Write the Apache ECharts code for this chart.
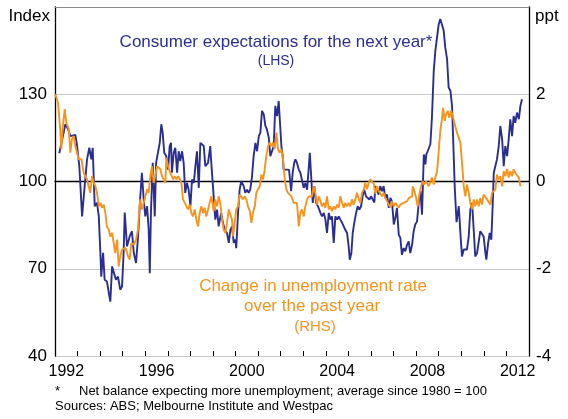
<!DOCTYPE html>
<html>
<head>
<meta charset="utf-8">
<script src="https://cdn.jsdelivr.net/npm/echarts@6/dist/echarts.min.js"></script>
<style>
html,body{margin:0;padding:0;background:#fff;}
#chart{width:568px;height:419px;}
</style>
</head>
<body>
<div id="chart"></div>
<script>
// ---- Data ----
var yearCategories = ['1992','1993','1994','1995','1996','1997','1998','1999','2000','2001','2002','2003','2004','2005','2006','2007','2008','2009','2010','2011','2012'];
var leftTicks = [40, 70, 100, 130];
var rightTicks = [-4, -2, 0, 2];

// Consumer expectations for the next year (index, LHS)
var consumerYears = [1992.19,1992.46,1992.58,1992.68,1992.90,1992.97,1993.08,1993.20,1993.30,1993.42,1993.52,1993.61,1993.67,1993.76,1993.86,1993.94,
1994.01,1994.05,1994.13,1994.20,1994.30,1994.45,1994.53,1994.60,1994.70,1994.79,1994.89,1994.97,
1995.04,1995.09,1995.19,1995.31,1995.41,1995.49,1995.59,1995.68,1995.78,1995.85,1995.93,
1996.00,1996.08,1996.15,1996.20,1996.25,1996.33,1996.42,1996.48,1996.56,1996.64,1996.71,1996.77,1996.84,1996.93,
1997.01,1997.08,1997.14,1997.18,1997.26,1997.33,1997.41,1997.48,1997.55,1997.63,1997.70,1997.77,1997.85,1997.92,
1998.00,1998.07,1998.15,1998.22,1998.29,1998.37,1998.44,1998.51,1998.59,1998.66,1998.78,1998.88,1998.91,
1999.03,1999.10,1999.18,1999.25,1999.36,1999.44,1999.52,1999.62,1999.70,1999.77,1999.84,1999.92,1999.99,
2000.03,2000.11,2000.18,2000.25,2000.36,2000.43,2000.51,2000.58,2000.65,2000.73,2000.80,2000.88,2000.95,
2001.03,2001.10,2001.17,2001.25,2001.32,2001.39,2001.47,2001.54,2001.62,2001.69,2001.76,2001.84,2001.91,2001.96,
2002.03,2002.09,2002.13,2002.20,2002.28,2002.37,2002.46,2002.53,2002.60,2002.65,2002.72,2002.80,2002.87,2002.94,
2003.02,2003.09,2003.17,2003.29,2003.34,2003.42,2003.49,2003.57,2003.65,2003.76,2003.83,2003.91,2003.98,
2004.05,2004.13,2004.20,2004.27,2004.35,2004.42,2004.50,2004.57,2004.64,2004.72,2004.79,2004.86,2004.94,
2005.01,2005.06,2005.13,2005.19,2005.26,2005.34,2005.41,2005.48,2005.56,2005.63,2005.70,2005.78,2005.86,2005.93,
2006.00,2006.08,2006.15,2006.19,2006.27,2006.34,2006.41,2006.49,2006.56,2006.63,2006.71,2006.79,2006.86,2006.93,
2007.01,2007.08,2007.15,2007.23,2007.30,2007.37,2007.45,2007.52,2007.60,2007.67,2007.74,2007.82,2007.89,2007.96,
2008.04,2008.12,2008.19,2008.26,2008.34,2008.41,2008.45,2008.51,2008.58,2008.63,2008.70,2008.78,2008.85,2008.93,
2009.00,2009.07,2009.15,2009.22,2009.29,2009.37,2009.44,2009.52,2009.59,2009.66,2009.71,2009.79,2009.89,2009.96,
2010.03,2010.11,2010.18,2010.25,2010.33,2010.40,2010.48,2010.55,2010.62,2010.70,2010.77,2010.84,2010.92,2010.99,
2011.07,2011.11,2011.19,2011.26,2011.33,2011.39,2011.44,2011.51,2011.58,2011.66,2011.73,2011.81,2011.88,2011.95,
2012.03,2012.10,2012.17,2012.25,2012.32,2012.39,2012.47,2012.55,2012.62,2012.69];
var consumerIndex = [109.7,119.7,118,115.6,116,112.8,105,88,97.2,107.6,111.6,107.6,111.6,91.5,92.7,88,
75.5,67.3,75.5,66.2,65.6,58.7,70.8,70.3,66.2,67.3,62.8,63.9,
75.5,89.3,77.7,81.1,82.9,75.5,72,81.1,94.9,103,93.8,
88,91.5,83.4,68.5,89.2,106.4,88,106.4,109.9,113.3,119.7,116.8,109.9,108.7,
104.1,112.2,113.3,103,109.9,111.6,103,110.4,107,110.4,106.4,96.1,99.5,97.2,
91.5,100.7,99.5,105.3,110.4,97.8,113.3,113.3,112.2,105.3,106.4,112.2,108,
94.9,86.9,90.3,84.6,89.2,85.8,83.4,82.3,78.9,83.4,84.6,78.9,80,
77.1,89.2,97.2,100.1,98.4,96.1,97.2,96.1,97.2,101.8,108.7,113.3,110.4,
115.6,116.8,124.3,123.1,119.1,117.9,115.1,108.7,109.3,112.2,126,122.5,127.7,127.5,
112.2,108.7,104.1,104.7,104.1,104,96.7,103,106.5,107.6,106.4,104.1,103,102.4,
97.8,99.5,97.2,109.9,103,92.6,98.4,92.6,91.5,89.2,88,89.2,86.9,
82.3,89.2,86.9,88,78.9,88,86.9,88,86.9,85.8,84.6,83.4,82.3,
77.7,73.1,75.4,82.3,85.8,89.2,91.5,90.3,91.5,94.9,97.2,94.9,94.9,93.8,
94.9,95,92.8,98.4,97.2,95.5,98.4,96.7,98.4,94.4,95.5,90.9,94.4,93.2,
85.2,87.5,90.9,81.7,80.6,74.8,77.1,76,78.3,79.4,75.4,78.3,82.9,85.2,
86.3,93.2,96.7,88.6,109.3,105.9,109.3,110.4,111,112.8,122,138,144.9,144.3,
154.1,155.9,155.9,151.9,146.1,142.1,132.3,131.1,126,110,98,86,91.5,82.3,
74.2,76.6,76,76.6,81.1,90.3,92.6,83.4,74.2,75.4,76,82.9,82.3,81.1,
75.4,73.1,78.9,82.3,80,91.5,103,105.3,107.6,112.2,119.1,114.5,105.3,112.2,
108.7,114.5,121.4,115.6,122.5,120.2,123.7,121.4,126,128.3];

// Change in unemployment rate over the past year (ppt, RHS)
var unempYears = [1992.01,1992.13,1992.23,1992.28,1992.35,1992.43,1992.50,1992.61,1992.68,1992.75,1992.83,1992.90,1992.97,
1993.05,1993.17,1993.27,1993.34,1993.42,1993.49,1993.56,1993.64,1993.72,1993.79,1993.86,1993.94,
1994.01,1994.08,1994.16,1994.23,1994.30,1994.38,1994.45,1994.53,1994.60,1994.67,1994.75,1994.82,1994.89,1994.97,
1995.12,1995.24,1995.31,1995.38,1995.49,1995.59,1995.68,1995.74,1995.78,1995.85,1995.93,
1996.00,1996.08,1996.15,1996.22,1996.30,1996.37,1996.44,1996.52,1996.60,1996.67,1996.74,1996.82,1996.89,1996.93,
1997.01,1997.08,1997.15,1997.23,1997.30,1997.38,1997.45,1997.53,1997.60,1997.67,1997.75,1997.82,1997.89,1997.97,
1998.04,1998.11,1998.19,1998.26,1998.34,1998.41,1998.48,1998.56,1998.63,1998.70,1998.78,1998.85,1998.93,
1999.03,1999.10,1999.18,1999.25,1999.32,1999.40,1999.47,1999.55,1999.62,1999.70,1999.77,1999.84,1999.89,1999.96,
2000.03,2000.11,2000.18,2000.25,2000.33,2000.41,2000.48,2000.55,2000.63,2000.70,2000.77,2000.85,2000.92,2000.99,
2001.07,2001.14,2001.22,2001.29,2001.36,2001.44,2001.51,2001.58,2001.66,2001.73,2001.81,2001.88,2001.96,
2002.03,2002.10,2002.18,2002.25,2002.32,2002.40,2002.47,2002.58,2002.65,2002.72,2002.80,2002.87,2002.94,
2003.02,2003.09,2003.17,2003.24,2003.31,2003.39,2003.46,2003.53,2003.61,2003.68,2003.76,2003.83,2003.91,2003.98,
2004.05,2004.13,2004.20,2004.27,2004.35,2004.42,2004.50,2004.57,2004.64,2004.72,2004.79,2004.86,2004.94,
2005.01,2005.08,2005.16,2005.23,2005.31,2005.38,2005.46,2005.53,2005.60,2005.68,2005.75,2005.82,2005.90,2005.97,
2006.05,2006.12,2006.19,2006.27,2006.34,2006.41,2006.49,2006.56,2006.63,2006.71,2006.79,2006.86,2006.93,
2007.01,2007.08,2007.15,2007.23,2007.30,2007.37,2007.45,2007.52,2007.60,2007.67,2007.74,2007.82,2007.85,2007.92,
2008.00,2008.07,2008.14,2008.22,2008.29,2008.36,2008.44,2008.51,2008.56,2008.63,2008.70,2008.78,2008.85,2008.93,
2009.00,2009.07,2009.15,2009.19,2009.27,2009.32,2009.40,2009.47,2009.55,2009.62,2009.71,2009.81,2009.89,2009.96,
2010.03,2010.11,2010.18,2010.25,2010.33,2010.40,2010.48,2010.55,2010.62,2010.70,2010.77,2010.84,2010.92,2010.99,
2011.07,2011.14,2011.22,2011.29,2011.36,2011.44,2011.51,2011.58,2011.66,2011.73,2011.81,2011.88,2011.95,
2012.03,2012.10,2012.17,2012.25,2012.32,2012.39,2012.47,2012.55,2012.62];
var unempChange = [2.0,1.81,1.2,0.74,1.27,1.66,1.35,1.2,0.66,0.97,1.04,0.81,0.85,
0.51,0.51,0.2,0.12,0.05,-0.11,-0.26,0.12,-0.03,-0.11,-0.26,-0.57,
-0.49,-0.6,-0.53,-0.72,-1.03,-1.1,-1.26,-1.18,-1.41,-1.64,-1.33,-1.95,-1.72,-1.56,
-1.52,-1.72,-1.79,-1.41,-1.45,-1.33,-1.1,-0.57,-0.41,-0.64,-0.49,
-0.53,-0.18,-0.26,0.12,0.35,-0.03,0.12,0.35,0.39,0.28,0.12,0.08,-0.03,0.54,
0.35,0.24,0.28,0.05,0.12,0.05,0.12,0.05,-0.03,-0.41,-0.49,-0.49,-0.64,-0.53,
-0.72,-0.8,-0.64,-0.87,-1.03,-0.72,-0.57,-0.72,-0.6,-0.8,-0.64,-0.49,-0.34,
-0.68,-0.41,-0.57,-0.34,-0.49,-0.87,-1.1,-1.18,-0.95,-0.64,-0.64,-0.87,-1.26,-0.95,
-0.64,-0.57,-0.3,-0.34,-0.41,-0.34,-0.41,-0.57,-0.68,-0.95,-0.72,-0.57,-0.26,-0.18,
-0.11,0.16,0.05,0.28,0.58,0.81,0.89,0.81,0.89,0.74,1.12,0.74,0.66,
0.74,0.51,0.05,-0.18,-0.26,-0.26,-0.34,-0.49,-0.5,-0.49,-1.03,-0.72,-0.64,
-0.8,-0.57,-0.41,-0.34,-0.3,-0.34,-0.11,-0.26,-0.53,-0.34,-0.45,-0.57,-0.49,-0.6,
-0.34,-0.64,-0.57,-0.68,-0.57,-0.64,-0.53,-0.6,-0.34,-0.49,-0.6,-0.49,-0.57,
-0.49,-0.57,-0.41,-0.53,-0.41,-0.26,-0.41,-0.49,-0.26,-0.18,-0.03,-0.18,-0.03,0.05,
0.05,-0.05,-0.28,-0.11,-0.22,-0.26,-0.34,-0.26,-0.38,-0.45,-0.53,-0.6,-0.45,
-0.57,-0.49,-0.53,-0.6,-0.53,-0.57,-0.49,-0.45,-0.45,-0.38,-0.41,-0.34,-0.11,-0.22,
-0.38,-0.57,-0.3,-0.11,0.01,-0.07,0.01,-0.03,-0.11,-0.15,0.09,-0.07,0.09,0.24,
0.7,1.16,1.46,1.69,1.39,1.54,1.62,1.46,1.62,1.5,1.31,1.12,1.0,0.89,
0.43,-0.11,-0.34,-0.07,-0.26,-0.49,-0.64,-0.41,-0.57,-0.41,-0.57,-0.38,-0.53,-0.3,
-0.26,-0.41,-0.45,-0.53,-0.26,-0.22,-0.18,0.16,0.05,0.12,-0.11,0.24,0.12,
0.28,0.09,0.24,0.12,0.28,0.2,0.24,0.09,-0.11];

// ---- Build chart ----
function zip(xs, ys){ var out=[]; for(var i=0;i<xs.length;i++){ out.push([xs[i], ys[i]]); } return out; }
var BLUE = '#2b2e91';
var ORANGE = '#f7941d';
var FONT = 'Arial, "Liberation Sans", Helvetica, sans-serif';

var chart = echarts.init(document.getElementById('chart'), null, {renderer:'canvas'});
chart.setOption({
  animation: false,
  backgroundColor: '#fff',
  textStyle: {fontFamily: FONT},
  grid: {left: 55, right: 39, top: 7, bottom: 63, containLabel: false},
  xAxis: [
    {
      // year labels centred in each year band
      type: 'category', data: yearCategories, boundaryGap: true, position: 'bottom',
      axisLine: {show: true, lineStyle: {color: '#000', width: 1.3}},
      axisTick: {show: false},
      axisLabel: {interval: 3, color: '#000', fontSize: 16, margin: 8, fontFamily: FONT},
      splitLine: {show: false}
    },
    {
      // data axis: decimal years, with yearly inside ticks
      type: 'value', min: 1992, max: 2013, interval: 1, position: 'bottom',
      axisLine: {show: false, onZero: false},
      axisTick: {show: true, inside: true, length: 5, lineStyle: {color: '#000', width: 1}},
      axisLabel: {show: false}, splitLine: {show: false}
    },
    {
      // top frame
      type: 'value', min: 1992, max: 2013, position: 'top',
      axisLine: {show: true, onZero: false, lineStyle: {color: '#8a8a8a', width: 1}},
      axisTick: {show: false}, axisLabel: {show: false}, splitLine: {show: false}
    }
  ],
  yAxis: [
    {
      type: 'value', min: 40, max: 160, interval: 30, position: 'left',
      axisLine: {show: true, lineStyle: {color: '#000', width: 1.3}},
      axisTick: {show: false},
      axisLabel: {color: '#000', fontSize: 17, margin: 8, fontFamily: FONT,
        formatter: function(v){ return leftTicks.indexOf(v) >= 0 ? String(v) : ''; }},
      splitLine: {show: true, lineStyle: {color: '#c8c8c8', width: 1}}
    },
    {
      type: 'value', min: -4, max: 4, interval: 2, position: 'right',
      axisLine: {show: true, lineStyle: {color: '#000', width: 1.3}},
      axisTick: {show: false},
      axisLabel: {color: '#000', fontSize: 17, margin: 7, fontFamily: FONT,
        formatter: function(v){ return rightTicks.indexOf(v) >= 0 ? String(v) : ''; }},
      splitLine: {show: false}
    }
  ],
  series: [
    {
      name: 'Consumer expectations', type: 'line', xAxisIndex: 1, yAxisIndex: 0,
      data: zip(consumerYears, consumerIndex), showSymbol: false, symbol: 'none',
      lineStyle: {color: BLUE, width: 1.9}, z: 3,
      markLine: {silent: true, symbol: 'none', label: {show: false},
        lineStyle: {color: '#000', width: 1, type: 'solid'}, data: [{yAxis: 100}], z: 1}
    },
    {
      name: 'Change in unemployment rate', type: 'line', xAxisIndex: 1, yAxisIndex: 1,
      data: zip(unempYears, unempChange), showSymbol: false, symbol: 'none',
      lineStyle: {color: ORANGE, width: 1.9}, z: 4
    }
  ],
  graphic: [
    {type: 'text', x: 50, y: 16, style: {text: 'Index', fill: '#000', font: '17px ' + FONT, textAlign: 'right', textVerticalAlign: 'middle'}},
    {type: 'text', x: 535, y: 16, style: {text: 'ppt', fill: '#000', font: '17px ' + FONT, textAlign: 'left', textVerticalAlign: 'middle'}},
    {type: 'text', x: 276, y: 42, style: {text: 'Consumer expectations for the next year*', fill: BLUE, font: '17px ' + FONT, textAlign: 'center', textVerticalAlign: 'middle'}},
    {type: 'text', x: 276, y: 61, style: {text: '(LHS)', fill: BLUE, font: '14px ' + FONT, textAlign: 'center', textVerticalAlign: 'middle'}},
    {type: 'text', x: 313, y: 286, style: {text: 'Change in unemployment rate', fill: ORANGE, font: '17px ' + FONT, textAlign: 'center', textVerticalAlign: 'middle'}},
    {type: 'text', x: 312, y: 306, style: {text: 'over the past year', fill: ORANGE, font: '17px ' + FONT, textAlign: 'center', textVerticalAlign: 'middle'}},
    {type: 'text', x: 315, y: 327, style: {text: '(RHS)', fill: ORANGE, font: '15px ' + FONT, textAlign: 'center', textVerticalAlign: 'middle'}},
    {type: 'text', left: 55, top: 385, style: {text: '*', fill: '#000', font: '13px ' + FONT}},
    {type: 'text', left: 79, top: 385, style: {text: 'Net balance expecting more unemployment; average since 1980 = 100', fill: '#000', font: '13px ' + FONT}},
    {type: 'text', left: 55, top: 400, style: {text: 'Sources: ABS; Melbourne Institute and Westpac', fill: '#000', font: '13px ' + FONT}}
  ]
});
</script>
</body>
</html>
